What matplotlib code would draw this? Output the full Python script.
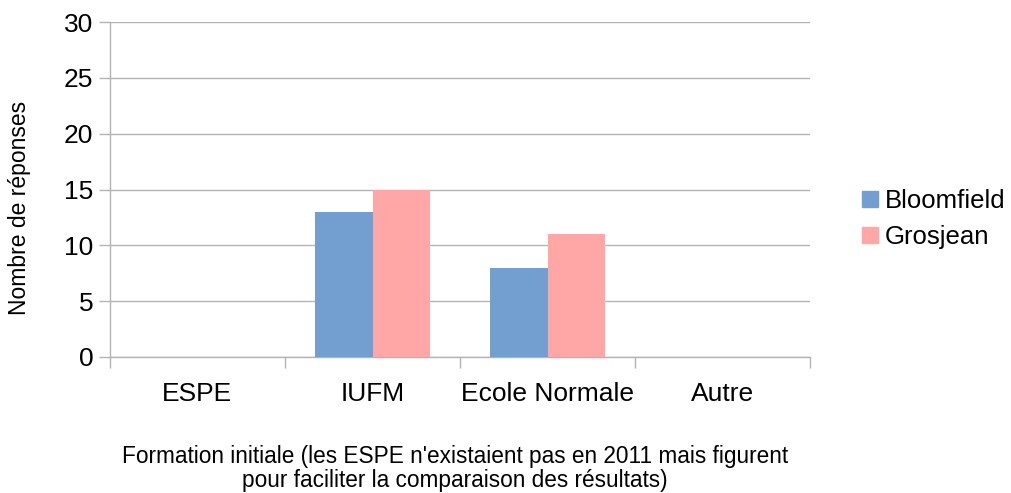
import numpy as np
import matplotlib
matplotlib.use('Agg')
from matplotlib import pyplot as plt
from matplotlib.patches import Patch

categories = ["ESPE", "IUFM", "Ecole Normale", "Autre"]
bloomfield = [0, 13, 8, 0]
grosjean = [0, 15, 11, 0]
series_names = ["Bloomfield", "Grosjean"]
xtitle = ["Formation initiale (les ESPE n'existaient pas en 2011 mais figurent",
          "pour faciliter la comparaison des résultats)"]

plt.rcParams['font.family'] = ['Liberation Sans', 'DejaVu Sans']

fig = plt.figure(figsize=(10.11, 4.93), dpi=100)
ax = fig.add_axes([110/1011, 1-357/493, 700/1011, 335/493])

x = np.arange(len(categories))
w = 0.33
ax.bar(x - w/2, bloomfield, w, color='#729fcf', zorder=3)
ax.bar(x + w/2, grosjean, w, color='#ffa6a6', zorder=3)

ax.set_xlim(-0.5, 3.5)
ax.set_ylim(0, 30)
ax.set_yticks(range(0, 31, 5))
ax.yaxis.grid(True, color='#b3b3b3', linewidth=1)
ax.set_axisbelow(True)

for s in ['top', 'right']:
    ax.spines[s].set_visible(False)
for s in ['left', 'bottom']:
    ax.spines[s].set_color('#b3b3b3')
    ax.spines[s].set_linewidth(1)

ax.set_xticks(x)
ax.set_xticklabels(categories)
ax.set_xticks(np.arange(-0.5, 4, 1), minor=True)
ax.tick_params(axis='x', which='major', length=0, pad=18, labelsize=19)
ax.tick_params(axis='x', which='minor', length=8, color='#b3b3b3', width=1)
ax.tick_params(axis='y', length=8, color='#b3b3b3', width=1, pad=4, labelsize=19)

fig.text(20/1011, 1-208/493, "Nombre de réponses", fontsize=16.5, rotation=90,
         ha='center', va='center')
# titre de l'axe x, deux lignes
fig.text(455/1011, 1-463/493, xtitle[0], fontsize=16.3, ha='center', va='baseline')
fig.text(455/1011, 1-487/493, xtitle[1], fontsize=16.3, ha='center', va='baseline')

handles = [Patch(color='#729fcf'), Patch(color='#ffa6a6')]
fig.legend(handles, series_names, loc='center left', bbox_to_anchor=(862/1011, 1-219/493),
           frameon=False, fontsize=18.5, handlelength=0.62, handleheight=0.6,
           handletextpad=0.27, labelspacing=0.45, borderpad=0, borderaxespad=0)

plt.savefig('out.png', dpi=100)
